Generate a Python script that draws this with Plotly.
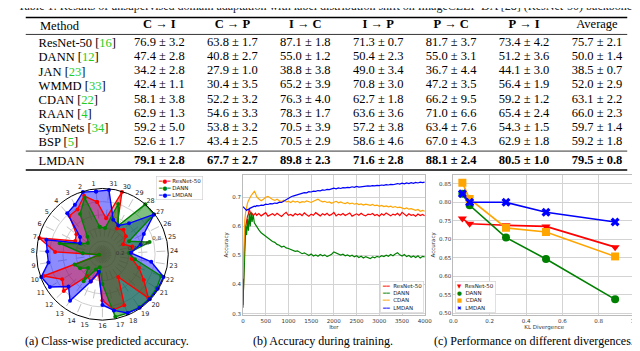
import plotly.graph_objects as go

SERIF = "Liberation Serif"
SANS = "DejaVu Sans"

W, H = 640, 351


def px_x(v):
    return v / W


def px_y(v):
    return 1 - v / H


# ---------------- table data ----------------
TASKS = ["C→I", "C→P", "I→C", "I→P", "P→C", "P→I", "Average"]
TASK_LABELS = ["<b>C</b> → <b>I</b>", "<b>C</b> → <b>P</b>", "<b>I</b> → <b>C</b>",
               "<b>I</b> → <b>P</b>", "<b>P</b> → <b>C</b>", "<b>P</b> → <b>I</b>", "Average"]
METHODS = ["ResNet-50", "DANN", "JAN", "WMMD", "CDAN", "RAAN", "SymNets", "BSP"]
CITES = ["16", "12", "23", "33", "22", "4", "34", "5"]

RESNET_MEAN = [76.9, 63.8, 87.1, 71.3, 81.7, 73.4, 75.7]
RESNET_STD = [3.2, 1.7, 1.8, 0.7, 3.7, 4.2, 2.1]
DANN_MEAN = [47.4, 40.8, 55.0, 50.4, 55.0, 51.2, 50.0]
DANN_STD = [2.8, 2.7, 1.2, 2.3, 3.1, 3.6, 1.4]
JAN_MEAN = [34.2, 27.9, 38.8, 49.0, 36.7, 44.1, 38.5]
JAN_STD = [2.8, 1.0, 3.8, 3.4, 4.4, 3.0, 0.7]
WMMD_MEAN = [42.4, 30.4, 65.2, 70.8, 47.2, 56.4, 52.0]
WMMD_STD = [1.1, 3.5, 3.9, 3.0, 3.5, 1.9, 2.9]
CDAN_MEAN = [58.1, 52.2, 76.3, 62.7, 66.2, 59.2, 63.1]
CDAN_STD = [3.8, 3.2, 4.0, 1.8, 9.5, 1.2, 2.2]
RAAN_MEAN = [62.9, 54.6, 78.3, 63.6, 71.0, 65.4, 66.0]
RAAN_STD = [1.3, 3.3, 1.7, 3.6, 6.6, 2.4, 2.3]
SYMNETS_MEAN = [59.2, 53.8, 70.5, 57.2, 63.4, 54.3, 59.7]
SYMNETS_STD = [5.0, 3.2, 3.9, 3.8, 7.6, 1.5, 1.4]
BSP_MEAN = [52.6, 43.4, 70.5, 58.6, 67.0, 62.9, 59.2]
BSP_STD = [1.7, 2.5, 2.9, 4.6, 4.3, 1.8, 1.8]
LMDAN_MEAN = [79.1, 67.7, 89.8, 71.6, 88.1, 80.5, 79.5]
LMDAN_STD = [2.8, 2.7, 2.3, 2.8, 2.4, 1.0, 0.8]

# ---------------- (a) class-wise accuracy ----------------
CLASS_LABELS = [str(k) for k in range(1, 32)]
RADAR_RESNET = [0.80, 0.93, 0.78, 0.77, 0.50, 0.46, 0.99, 0.72, 0.05, 0.95,
                0.72, 0.81, 0.40, 0.45, 0.30, 0.70, 0.86, 0.84, 0.42, 0.96,
                0.74, 0.59, 0.45, 0.44, 0.47, 0.35, 0.45, 0.49, 0.45, 0.99, 0.55]
RADAR_DANN = [0.42, 0.90, 0.70, 0.35, 0.28, 0.36, 0.67, 0.30, 0.05, 0.45,
              0.40, 0.30, 0.50, 0.25, 0.20, 0.45, 0.97, 0.97, 0.98, 0.98,
              0.97, 0.95, 0.50, 0.40, 0.74, 0.45, 0.99, 1.00, 0.50, 0.80, 0.40]
RADAR_LMDAN = [0.96, 0.99, 0.86, 0.82, 0.43, 0.38, 0.88, 0.84, 0.83, 0.99,
               0.94, 0.71, 0.86, 0.45, 0.27, 0.77, 0.87, 0.97, 0.99, 0.99,
               0.99, 0.99, 0.75, 0.43, 0.60, 0.70, 0.99, 0.62, 0.50, 0.55, 0.98]

# ---------------- (b) accuracy during training ----------------
ITERS = [0, 20, 40, 60, 80, 100, 120, 140, 160, 180, 200, 225, 250, 275] + list(range(300, 4001, 50))
TRAIN_RESNET = [0.320, 0.450, 0.560, 0.600, 0.625, 0.635, 0.642, 0.660, 0.648, 0.640, 0.646, 0.636, 0.641, 0.645,
                0.638, 0.644, 0.636, 0.641, 0.647, 0.635, 0.640, 0.643, 0.637, 0.645,
                0.639, 0.634, 0.642, 0.648, 0.638, 0.641, 0.636, 0.644, 0.639, 0.643,
                0.637, 0.646, 0.640, 0.635, 0.642, 0.638, 0.647, 0.641, 0.636, 0.643,
                0.639, 0.645, 0.637, 0.641, 0.648, 0.636, 0.642, 0.639, 0.644, 0.637,
                0.641, 0.646, 0.635, 0.640, 0.643, 0.638, 0.645, 0.639, 0.636, 0.642,
                0.640, 0.644, 0.637, 0.641, 0.635, 0.643, 0.638, 0.646, 0.640, 0.636,
                0.642, 0.639, 0.645, 0.637, 0.648, 0.641, 0.636, 0.643, 0.638, 0.640,
                0.635, 0.642, 0.637, 0.641, 0.636]
TRAIN_DANN = [0.330, 0.420, 0.560, 0.600, 0.570, 0.625, 0.585, 0.645, 0.600, 0.650, 0.615, 0.640, 0.612, 0.605,
              0.598, 0.588, 0.578, 0.572, 0.566, 0.558, 0.553, 0.548, 0.545, 0.538,
              0.535, 0.529, 0.532, 0.526, 0.524, 0.521, 0.518, 0.514, 0.516, 0.510,
              0.506, 0.509, 0.503, 0.500, 0.505, 0.498, 0.502, 0.497, 0.503, 0.499,
              0.502, 0.496, 0.500, 0.504, 0.512, 0.508, 0.505, 0.501, 0.504, 0.499,
              0.502, 0.497, 0.501, 0.495, 0.499, 0.493, 0.497, 0.491, 0.496, 0.493,
              0.489, 0.495, 0.492, 0.497, 0.494, 0.499, 0.496, 0.501, 0.497, 0.503,
              0.499, 0.505, 0.509, 0.502, 0.498, 0.503, 0.496, 0.500, 0.494, 0.498,
              0.493, 0.499, 0.491, 0.497, 0.495]
TRAIN_CDAN = [0.420, 0.550, 0.620, 0.650, 0.668, 0.680, 0.688, 0.696, 0.700, 0.706, 0.710, 0.716, 0.720, 0.714,
              0.702, 0.694, 0.688, 0.693, 0.700, 0.703, 0.697, 0.692, 0.689, 0.693,
              0.688, 0.685, 0.690, 0.684, 0.686, 0.682, 0.687, 0.683, 0.686, 0.681,
              0.685, 0.683, 0.687, 0.684, 0.682, 0.686, 0.690, 0.693, 0.688, 0.684,
              0.686, 0.682, 0.684, 0.679, 0.683, 0.686, 0.681, 0.684, 0.680, 0.678,
              0.682, 0.677, 0.680, 0.676, 0.679, 0.675, 0.677, 0.673, 0.676, 0.674,
              0.672, 0.675, 0.671, 0.673, 0.669, 0.672, 0.668, 0.670, 0.667, 0.669,
              0.665, 0.668, 0.664, 0.666, 0.662, 0.660, 0.663, 0.659, 0.661, 0.657,
              0.655, 0.658, 0.652, 0.655, 0.652]
TRAIN_LMDAN = [0.668, 0.664, 0.659, 0.656, 0.655, 0.658, 0.657, 0.661, 0.663, 0.662, 0.665, 0.667, 0.669, 0.668,
               0.671, 0.670, 0.673, 0.672, 0.676, 0.675, 0.678, 0.677, 0.680, 0.679,
               0.683, 0.682, 0.687, 0.692, 0.697, 0.701, 0.704, 0.706, 0.709, 0.712,
               0.714, 0.716, 0.715, 0.719, 0.718, 0.721, 0.720, 0.723, 0.722, 0.725,
               0.724, 0.727, 0.726, 0.728, 0.731, 0.729, 0.732, 0.730, 0.733, 0.732,
               0.734, 0.733, 0.736, 0.734, 0.737, 0.735, 0.736, 0.738, 0.737, 0.739,
               0.738, 0.740, 0.739, 0.741, 0.740, 0.742, 0.741, 0.743, 0.742, 0.744,
               0.743, 0.745, 0.747, 0.745, 0.748, 0.746, 0.749, 0.747, 0.750, 0.748,
               0.751, 0.749, 0.752, 0.750, 0.752]

# ---------------- (c) accuracy vs KL divergence ----------------
KL_DIV = [0.05, 0.09, 0.29, 0.51, 0.89]
KL_RESNET = [0.756, 0.742, 0.738, 0.735, 0.679]
KL_DANN = [0.823, 0.792, 0.705, 0.647, 0.538]
KL_CDAN = [0.853, 0.809, 0.731, 0.720, 0.654]
KL_LMDAN = [0.823, 0.800, 0.800, 0.773, 0.747]

RED, GREEN, ORANGE, BLUE = "#ff0000", "#008000", "#ffa500", "#0000ff"
FILLS = {RED: "rgba(255,0,0,0.38)", GREEN: "rgba(0,128,0,0.5)", BLUE: "rgba(0,0,255,0.45)"}

fig = go.Figure()

# ---- table cells ----
table_means = [RESNET_MEAN, DANN_MEAN, JAN_MEAN, WMMD_MEAN, CDAN_MEAN, RAAN_MEAN, SYMNETS_MEAN, BSP_MEAN]
table_stds = [RESNET_STD, DANN_STD, JAN_STD, WMMD_STD, CDAN_STD, RAAN_STD, SYMNETS_STD, BSP_STD]
cx, cy, ct = [], [], []
for name, means, stds in zip(METHODS, table_means, table_stds):
    for task, m, s in zip(TASKS, means, stds):
        cx.append(task)
        cy.append(name)
        ct.append(f"{m:.1f} ± {s:.1f}")
TFS = 12.5
cell_font = dict(family=SERIF, size=TFS, color="black")
fig.add_trace(go.Scatter(x=cx, y=cy, text=ct, mode="text", textfont=cell_font,
                         xaxis="x3", yaxis="y3", cliponaxis=False, hoverinfo="skip"))
fig.add_trace(go.Scatter(x=TASKS, y=["LMDAN"] * len(TASKS),
                         text=[f"<b>{m:.1f} ± {s:.1f}</b>" for m, s in zip(LMDAN_MEAN, LMDAN_STD)],
                         mode="text", textfont=cell_font,
                         xaxis="x4", yaxis="y4", cliponaxis=False, hoverinfo="skip"))

# ---- (a) radar: fills first (blue, red, green), then outlines ----
radar = {"ResNet-50": (RADAR_RESNET, RED), "DANN": (RADAR_DANN, GREEN), "LMDAN": (RADAR_LMDAN, BLUE)}
for name in ["LMDAN", "ResNet-50", "DANN"]:
    vals, col = radar[name]
    fig.add_trace(go.Scatterpolar(r=vals + vals[:1], theta=CLASS_LABELS + CLASS_LABELS[:1],
                                  mode="none", fill="toself", fillcolor=FILLS[col],
                                  subplot="polar", hoverinfo="skip"))
for name in ["ResNet-50", "DANN", "LMDAN"]:
    vals, col = radar[name]
    fig.add_trace(go.Scatterpolar(r=vals + vals[:1], theta=CLASS_LABELS + CLASS_LABELS[:1],
                                  mode="lines+markers", name=name,
                                  line=dict(color=col, width=1.4), marker=dict(color=col, size=4),
                                  subplot="polar"))

# ---- (b) training curves ----
for name, vals, col in [("ResNet-50", TRAIN_RESNET, RED), ("DANN", TRAIN_DANN, GREEN),
                        ("CDAN", TRAIN_CDAN, ORANGE), ("LMDAN", TRAIN_LMDAN, BLUE)]:
    fig.add_trace(go.Scatter(x=ITERS, y=vals, mode="lines", name=name,
                             line=dict(color=col, width=1.2), xaxis="x", yaxis="y"))

# ---- (c) KL divergence ----
for name, vals, col, sym in [("ResNet-50", KL_RESNET, RED, "triangle-down"),
                             ("DANN", KL_DANN, GREEN, "circle"),
                             ("CDAN", KL_CDAN, ORANGE, "square"),
                             ("LMDAN", KL_LMDAN, BLUE, "x")]:
    fig.add_trace(go.Scatter(x=KL_DIV, y=vals, mode="lines+markers", name=name,
                             line=dict(color=col, width=1.6),
                             marker=dict(color=col, size=8, symbol=sym),
                             xaxis="x2", yaxis="y2"))

for tr in fig.data:
    tr.showlegend = False

tick_small = dict(family=SANS, size=5.5, color="#333333")
grid = "#d3d3d3"

method_labels = [f'{m} [<span style="color:#22cc22">{c}</span>]' for m, c in zip(METHODS, CITES)]
row_h = 14.2
first_row = 35
rows_top = first_row - row_h / 2
rows_bot = first_row + row_h * 7 + row_h / 2
lmdan_y = 153
tbl_l, tbl_r = 14, 626
col0, col_step = 150, 74.2
x_rng = [-(col0 - tbl_l) / col_step, 6 + (tbl_r - col0 - 6 * col_step) / col_step]

fig.update_layout(
    width=W, height=H, autosize=False,
    margin=dict(l=0, r=0, t=0, b=0),
    paper_bgcolor="white", plot_bgcolor="white",
    showlegend=False,
    # table axes
    xaxis3=dict(domain=[px_x(tbl_l), px_x(tbl_r)], anchor="y3", type="category",
                categoryarray=TASKS, range=x_rng, side="top",
                tickvals=TASKS, ticktext=TASK_LABELS, ticks="", showgrid=False,
                zeroline=False, showline=False, ticklabelstandoff=4,
                tickfont=dict(family=SERIF, size=TFS, color="black")),
    yaxis3=dict(domain=[px_y(rows_bot), px_y(rows_top)], anchor="free", position=px_x(23),
                type="category", categoryarray=METHODS, range=[7.5, -0.5],
                tickvals=METHODS, ticktext=method_labels, ticklabelposition="inside",
                ticklabeloverflow="allow",
                ticks="", showgrid=False, zeroline=False, showline=False,
                tickfont=dict(family=SERIF, size=TFS, color="black")),
    xaxis4=dict(domain=[px_x(tbl_l), px_x(tbl_r)], anchor="y4", type="category",
                categoryarray=TASKS, range=x_rng, visible=False),
    yaxis4=dict(domain=[px_y(lmdan_y + row_h / 2), px_y(lmdan_y - row_h / 2)], anchor="free",
                position=px_x(23), type="category", categoryarray=["LMDAN"],
                tickvals=["LMDAN"], ticktext=["LMDAN"],
                range=[0.5, -0.5], ticklabelposition="inside", ticklabeloverflow="allow",
                ticks="", showgrid=False, zeroline=False, showline=False,
                tickfont=dict(family=SERIF, size=TFS, color="black")),
    # radar
    polar=dict(
        domain=dict(x=[px_x(25), px_x(159)], y=[px_y(314), px_y(180)]),
        bgcolor="white",
        angularaxis=dict(type="category", categoryarray=CLASS_LABELS, rotation=95.8,
                         direction="counterclockwise", showline=True, linecolor="black",
                         linewidth=1, gridcolor="#c4c4c4", griddash="dash", gridwidth=0.6,
                         ticks="", tickfont=dict(family=SANS, size=6.5, color="#222222")),
        radialaxis=dict(range=[0, 1], tickvals=[0.2, 0.4, 0.6, 0.8], angle=22.5,
                        tickangle=22.5, showline=False, ticks="", gridcolor="#cfcfcf",
                        gridwidth=0.6, tickfont=dict(family=SANS, size=5.5, color="#333333")),
    ),
    # (b)
    xaxis=dict(domain=[px_x(235), px_x(420)], anchor="y", range=[0, 4000],
               tickvals=list(range(0, 4001, 500)), showgrid=True, gridcolor=grid,
               showline=True, mirror=True, linecolor="#bbbbbb", linewidth=0.8,
               zeroline=False, ticks="", tickfont=tick_small,
               title=dict(text="Iter", font=tick_small, standoff=2)),
    yaxis=dict(domain=[px_y(308), px_y(167)], anchor="x", range=[0.295, 0.778],
               tickvals=[0.3, 0.4, 0.5, 0.6, 0.7], showgrid=True, gridcolor=grid,
               showline=True, mirror=True, linecolor="#bbbbbb", linewidth=0.8,
               zeroline=False, ticks="", tickfont=tick_small,
               title=dict(text="Accuracy", font=tick_small, standoff=3)),
    # (c)
    xaxis2=dict(domain=[px_x(449), px_x(634)], anchor="y2", range=[0, 1.0],
                tickvals=[0, 0.2, 0.4, 0.6, 0.8, 1.0], tickformat=".1f", showgrid=True,
                gridcolor=grid, showline=True, mirror=True, linecolor="#bbbbbb",
                linewidth=0.8, zeroline=False, ticks="", tickfont=tick_small,
                title=dict(text="KL Divergence", font=tick_small, standoff=2)),
    yaxis2=dict(domain=[px_y(308), px_y(167)], anchor="x2", range=[0.4955, 0.875],
                tickvals=[0.50, 0.55, 0.60, 0.65, 0.70, 0.75, 0.80, 0.85], tickformat=".2f",
                showgrid=True, gridcolor=grid, showline=True, mirror=True,
                linecolor="#bbbbbb", linewidth=0.8, zeroline=False, ticks="",
                tickfont=tick_small,
                title=dict(text="Accuracy", font=tick_small, standoff=3)),
)

# table rules
for y, w in [(9.5, 1.5), (26.5, 0.8), (143.5, 0.8), (162.5, 1.5)]:
    fig.add_shape(type="line", xref="paper", yref="paper", x0=px_x(tbl_l), x1=px_x(tbl_r),
                  y0=px_y(y), y1=px_y(y), line=dict(color="black", width=w))

capfont = dict(family=SERIF, size=12, color="black")
legfont = dict(family=SANS, size=5.5, color="#222222")
notes = [
    dict(text="Table 1: Results of unsupervised domain adaptation with label distribution shift on ImageCLEF-DA [28] (ResNet-50) backbone.",
         x=0.5, y=px_y(-2), xanchor="center", yanchor="middle", font=dict(family=SERIF, size=12, color="#222222")),
    dict(text="Method", x=px_x(26), y=px_y(18), xanchor="left", yanchor="middle",
         font=dict(family=SERIF, size=TFS, color="black")),
    dict(text="(a) Class-wise predicted accuracy.", x=px_x(97), y=px_y(334), xanchor="center", yanchor="middle", font=capfont),
    dict(text="(b) Accuracy during training.", x=px_x(316), y=px_y(334), xanchor="center", yanchor="middle", font=capfont),
    dict(text="(c) Performance on different divergences.", x=px_x(531), y=px_y(334), xanchor="center", yanchor="middle", font=capfont),
    # legends
    dict(text=(f'<span style="color:{RED}">━●━</span> ResNet-50<br>'
               f'<span style="color:{GREEN}">━●━</span> DANN<br>'
               f'<span style="color:{BLUE}">━●━</span> LMDAN'),
         x=px_x(147), y=px_y(168), xanchor="left", yanchor="top", align="left",
         font=legfont, bgcolor="white", bordercolor="#cccccc", borderwidth=0.6, borderpad=1.5),
    dict(text=(f'<span style="color:{RED}">━━</span>  ResNet-50<br>'
               f'<span style="color:{GREEN}">━━</span>  DANN<br>'
               f'<span style="color:{ORANGE}">━━</span>  CDAN<br>'
               f'<span style="color:{BLUE}">━━</span>  LMDAN'),
         x=px_x(419), y=px_y(306), xanchor="right", yanchor="bottom", align="left",
         font=legfont, bgcolor="white", bordercolor="#cccccc", borderwidth=0.6, borderpad=1.5),
    dict(text=(f'<span style="color:{RED}">▼</span>  ResNet-50<br>'
               f'<span style="color:{GREEN}">●</span>  DANN<br>'
               f'<span style="color:{ORANGE}">■</span>  CDAN<br>'
               f'<span style="color:{BLUE}">✖</span>  LMDAN'),
         x=px_x(451), y=px_y(306), xanchor="left", yanchor="bottom", align="left",
         font=legfont, bgcolor="white", bordercolor="#cccccc", borderwidth=0.6, borderpad=1.5),
]
for n in notes:
    fig.add_annotation(xref="paper", yref="paper", showarrow=False, **n)

fig.write_html("out.html")
